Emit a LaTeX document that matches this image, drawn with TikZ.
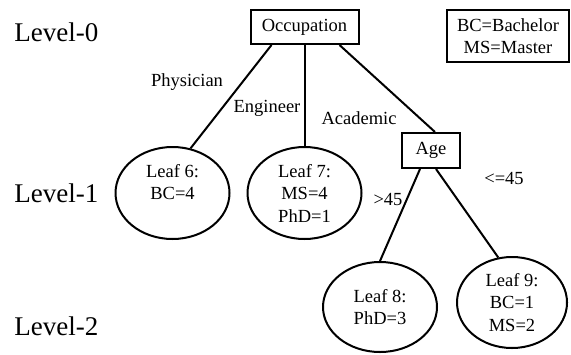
\documentclass[tikz,border=0pt]{standalone}
\usepackage{fontspec}
\setmainfont{Liberation Serif}
\usetikzlibrary{shapes}

\begin{document}
\begin{tikzpicture}[x=0.5pt,y=-0.5pt,
  txt/.style={font=\fontsize{9.25}{11.25}\selectfont, inner sep=0pt, align=center},
  lvl/.style={font=\fontsize{13.5}{16}\selectfont, inner sep=0pt, anchor=west},
  box/.style={draw, rectangle, line width=1pt, txt},
  leaf/.style={draw, ellipse, line width=1pt, txt, minimum width=57pt, minimum height=46pt},
  edge/.style={line width=1pt}]
\useasboundingbox (0,0) rectangle (571,354);

% levels
\node [lvl] (lev0) at (14,32) {Level-0};
\node [lvl] (lev1) at (14,193) {Level-1};
\node [lvl] (lev2) at (14,326) {Level-2};

\node [box, minimum width=54pt, minimum height=17pt] (occ) at (304.5,27) {Occupation};
\node [box, minimum width=29pt, minimum height=17.5pt] (age) at (431,150.5) {Age};
\node [box, minimum width=61pt, minimum height=26pt] (legend) at (508,36) {BC=Bachelor\\MS=Master};

\node [leaf] (leaf6) at (172.5,193) {Leaf 6:\\BC=4\\\mbox{}};
\node [leaf] (leaf7) at (304.5,193) {Leaf 7:\\MS=4\\PhD=1};
\node [leaf, minimum height=45pt] (leaf8) at (380,307) {Leaf 8:\\PhD=3};
\node [leaf, minimum width=55pt, minimum height=45.5pt] (leaf9) at (512,302.5) {Leaf 9:\\BC=1\\MS=2};

\draw [edge] ([xshift=-16.5pt]occ.south) -- (leaf6.68);
\draw [edge] (occ.south) -- (leaf7.north);
\draw [edge] ([xshift=17.5pt]occ.south) -- ([xshift=2pt]age.north);
\draw [edge] ([xshift=-5.5pt]age.south) -- (leaf8.north);
\draw [edge] ([xshift=2.5pt]age.south) -- (leaf9.107);

% branch labels
\node [txt] (lphys) at (187,82) {Physician};
\node [txt] (leng) at (267,108) {Engineer};
\node [txt] (lacad) at (359,118) {Academic};
\node [txt] (lgt) at (388,199) {>45};
\node [txt] (lle) at (504,178) {<=45};

\end{tikzpicture}
\end{document}
